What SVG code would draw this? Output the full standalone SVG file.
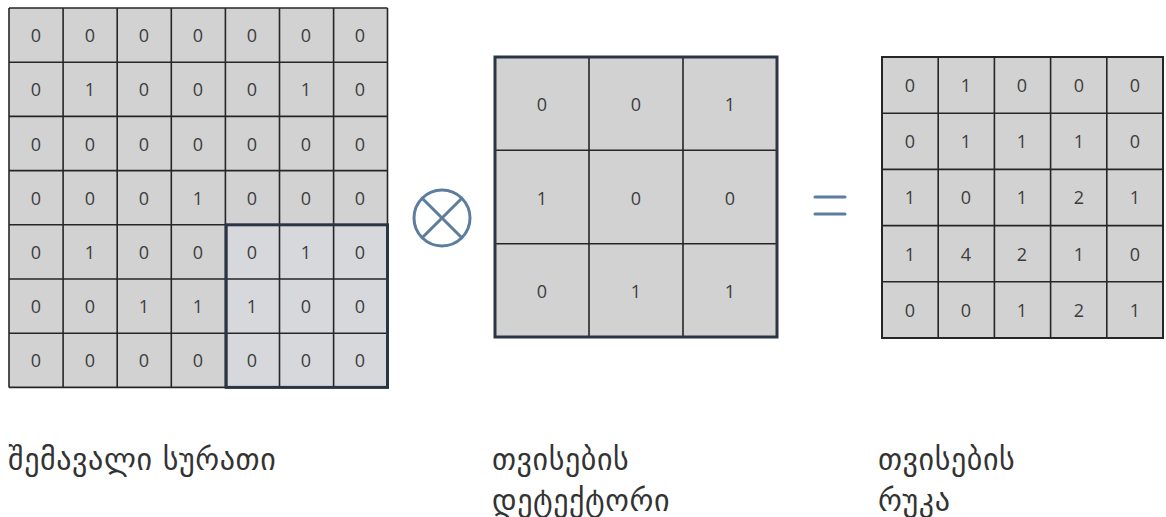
<svg xmlns="http://www.w3.org/2000/svg" width="1166" height="517" viewBox="0 0 1166 517">
  <style>
    .num { font-family: "Open Sans", "Liberation Sans", sans-serif; font-size: 18px; font-weight: 500; fill: #3c3c3c; text-anchor: middle; dominant-baseline: central; }
    .grid { stroke: #262626; stroke-width: 1.6; }
    .frame { fill: none; stroke: #2b3546; stroke-width: 3; }
    .op { fill: none; stroke: #5d7d9e; stroke-width: 3; stroke-linecap: round; }
    .label { font-family: "DejaVu Sans", "Noto Sans", sans-serif; font-size: 30px; letter-spacing: 0.6px; fill: #333333; }
  </style>

  <!-- input image: 7x7 binary grid with the 3x3 window outlined -->
  <g id="input-image">
    <rect x="9" y="8" width="378.5" height="379.5" fill="#d2d2d2"/>
    <rect x="226.7" y="224.6" width="160.8" height="162.9" fill="#d7d8dc"/>
    <g class="grid">
      <line x1="9" y1="8" x2="387.5" y2="8"/>
      <line x1="9" y1="62.2" x2="387.5" y2="62.2"/>
      <line x1="9" y1="116.4" x2="387.5" y2="116.4"/>
      <line x1="9" y1="170.6" x2="387.5" y2="170.6"/>
      <line x1="9" y1="224.8" x2="387.5" y2="224.8"/>
      <line x1="9" y1="279" x2="387.5" y2="279"/>
      <line x1="9" y1="333.2" x2="387.5" y2="333.2"/>
      <line x1="9" y1="387.4" x2="387.5" y2="387.4"/>
      <line x1="9" y1="8" x2="9" y2="387.5"/>
      <line x1="63.1" y1="8" x2="63.1" y2="387.5"/>
      <line x1="117.2" y1="8" x2="117.2" y2="387.5"/>
      <line x1="171.3" y1="8" x2="171.3" y2="387.5"/>
      <line x1="225.4" y1="8" x2="225.4" y2="387.5"/>
      <line x1="279.5" y1="8" x2="279.5" y2="387.5"/>
      <line x1="333.6" y1="8" x2="333.6" y2="387.5"/>
      <line x1="387.5" y1="8" x2="387.5" y2="387.5"/>
    </g>
    <rect x="226.2" y="224.8" width="161.3" height="162.6" class="frame" stroke-width="2.6"/>
    <g>
      <text class="num" x="36" y="35">0</text><text class="num" x="90" y="35">0</text><text class="num" x="144" y="35">0</text><text class="num" x="198" y="35">0</text><text class="num" x="252" y="35">0</text><text class="num" x="306" y="35">0</text><text class="num" x="360" y="35">0</text>
      <text class="num" x="36" y="89">0</text><text class="num" x="90" y="89">1</text><text class="num" x="144" y="89">0</text><text class="num" x="198" y="89">0</text><text class="num" x="252" y="89">0</text><text class="num" x="306" y="89">1</text><text class="num" x="360" y="89">0</text>
      <text class="num" x="36" y="144">0</text><text class="num" x="90" y="144">0</text><text class="num" x="144" y="144">0</text><text class="num" x="198" y="144">0</text><text class="num" x="252" y="144">0</text><text class="num" x="306" y="144">0</text><text class="num" x="360" y="144">0</text>
      <text class="num" x="36" y="198">0</text><text class="num" x="90" y="198">0</text><text class="num" x="144" y="198">0</text><text class="num" x="198" y="198">1</text><text class="num" x="252" y="198">0</text><text class="num" x="306" y="198">0</text><text class="num" x="360" y="198">0</text>
      <text class="num" x="36" y="252">0</text><text class="num" x="90" y="252">1</text><text class="num" x="144" y="252">0</text><text class="num" x="198" y="252">0</text><text class="num" x="252" y="252">0</text><text class="num" x="306" y="252">1</text><text class="num" x="360" y="252">0</text>
      <text class="num" x="36" y="306">0</text><text class="num" x="90" y="306">0</text><text class="num" x="144" y="306">1</text><text class="num" x="198" y="306">1</text><text class="num" x="252" y="306">1</text><text class="num" x="306" y="306">0</text><text class="num" x="360" y="306">0</text>
      <text class="num" x="36" y="360">0</text><text class="num" x="90" y="360">0</text><text class="num" x="144" y="360">0</text><text class="num" x="198" y="360">0</text><text class="num" x="252" y="360">0</text><text class="num" x="306" y="360">0</text><text class="num" x="360" y="360">0</text>
    </g>
  </g>

  <!-- convolution operator -->
  <g id="convolve-op" class="op">
    <circle cx="442" cy="218" r="28"/>
    <line x1="422.2" y1="198.2" x2="461.8" y2="237.8"/>
    <line x1="461.8" y1="198.2" x2="422.2" y2="237.8"/>
  </g>

  <!-- feature detector: 3x3 kernel -->
  <g id="feature-detector">
    <rect x="495" y="57" width="282" height="280" fill="#d2d2d2"/>
    <g class="grid">
      <line x1="495" y1="150.3" x2="777" y2="150.3"/>
      <line x1="495" y1="243.7" x2="777" y2="243.7"/>
      <line x1="589" y1="57" x2="589" y2="337"/>
      <line x1="683" y1="57" x2="683" y2="337"/>
    </g>
    <rect x="495" y="57" width="282" height="280" class="frame"/>
    <text class="num" x="542" y="104">0</text><text class="num" x="636" y="104">0</text><text class="num" x="730" y="104">1</text>
    <text class="num" x="542" y="198">1</text><text class="num" x="636" y="198">0</text><text class="num" x="730" y="198">0</text>
    <text class="num" x="542" y="291">0</text><text class="num" x="636" y="291">1</text><text class="num" x="730" y="291">1</text>
  </g>

  <!-- equals sign -->
  <g id="equals-op" class="op" stroke-width="4" stroke-linecap="butt">
    <line x1="815" y1="197" x2="845" y2="197"/>
    <line x1="815" y1="214" x2="845" y2="214"/>
  </g>

  <!-- feature map: 5x5 result -->
  <g id="feature-map">
    <rect x="882" y="57" width="281" height="281" fill="#d2d2d2"/>
    <g class="grid" stroke-width="1.8">
      <line x1="882" y1="113.2" x2="1163" y2="113.2"/>
      <line x1="882" y1="169.4" x2="1163" y2="169.4"/>
      <line x1="882" y1="225.6" x2="1163" y2="225.6"/>
      <line x1="882" y1="281.8" x2="1163" y2="281.8"/>
      <line x1="938.2" y1="57" x2="938.2" y2="338"/>
      <line x1="994.4" y1="57" x2="994.4" y2="338"/>
      <line x1="1050.6" y1="57" x2="1050.6" y2="338"/>
      <line x1="1106.8" y1="57" x2="1106.8" y2="338"/>
    </g>
    <rect x="882" y="57" width="281" height="281" fill="none" stroke="#262626" stroke-width="2"/>
    <text class="num" x="910" y="85">0</text><text class="num" x="966" y="85">1</text><text class="num" x="1022" y="85">0</text><text class="num" x="1079" y="85">0</text><text class="num" x="1135" y="85">0</text>
    <text class="num" x="910" y="141">0</text><text class="num" x="966" y="141">1</text><text class="num" x="1022" y="141">1</text><text class="num" x="1079" y="141">1</text><text class="num" x="1135" y="141">0</text>
    <text class="num" x="910" y="197">1</text><text class="num" x="966" y="197">0</text><text class="num" x="1022" y="197">1</text><text class="num" x="1079" y="197">2</text><text class="num" x="1135" y="197">1</text>
    <text class="num" x="910" y="254">1</text><text class="num" x="966" y="254">4</text><text class="num" x="1022" y="254">2</text><text class="num" x="1079" y="254">1</text><text class="num" x="1135" y="254">0</text>
    <text class="num" x="910" y="310">0</text><text class="num" x="966" y="310">0</text><text class="num" x="1022" y="310">1</text><text class="num" x="1079" y="310">2</text><text class="num" x="1135" y="310">1</text>
  </g>

  <!-- captions -->
  <g id="captions">
    <text class="label" x="8" y="470">შემავალი სურათი</text>
    <text class="label" x="492" y="470">თვისების</text>
    <text class="label" x="492" y="511">დეტექტორი</text>
    <text class="label" x="878" y="470">თვისების</text>
    <text class="label" x="878" y="511">რუკა</text>
  </g>
</svg>
